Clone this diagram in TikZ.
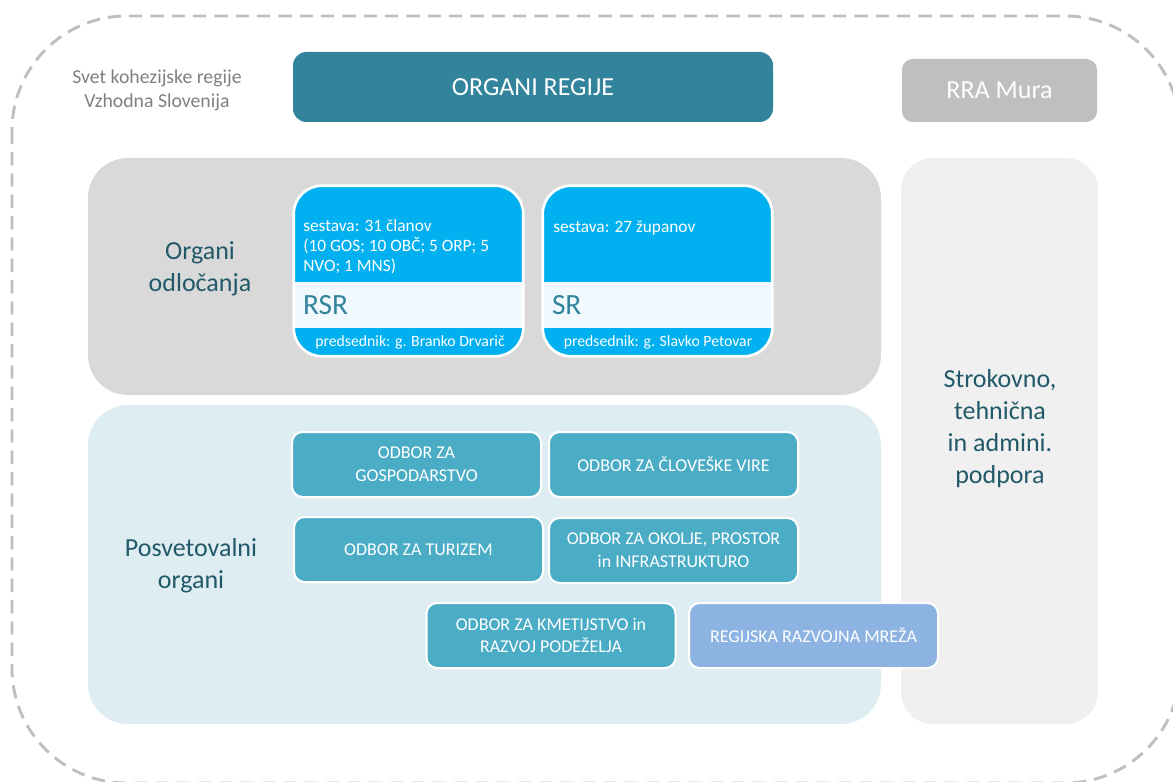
\documentclass[tikz,border=0pt]{standalone}
\usepackage{fontspec}
\setmainfont{Carlito}

\definecolor{headteal}{HTML}{31849B}
\definecolor{darkteal}{HTML}{215968}
\definecolor{rragray}{HTML}{BFBFBF}
\definecolor{decgray}{HTML}{D9D9D9}
\definecolor{advblue}{HTML}{DEEDF2}
\definecolor{supgray}{HTML}{F0F0F0}
\definecolor{cardblue}{HTML}{00B0F0}
\definecolor{cardlight}{HTML}{F0FAFE}
\definecolor{odborteal}{HTML}{4BACC6}
\definecolor{mrezablue}{HTML}{8DB3E2}
\definecolor{framegray}{HTML}{BFBFBF}
\definecolor{svetgray}{HTML}{7F7F7F}

% 1 px of the layout = 0.75pt
\newcommand{\pxl}[1]{#1*0.75pt}
\newcommand{\sz}[2]{\fontsize{#1}{#2}\selectfont}

\begin{document}
\begin{tikzpicture}[x=0.75pt, y=-0.75pt]

\tikzset{
  outerframe/.style={draw=framegray, line width=2.2pt, dash pattern=on 10pt off 6pt, rounded corners=86pt},
  region/.style={inner sep=0pt, rounded corners=30pt},
  head/.style={inner sep=0pt, rounded corners=10pt, text=white, font=\sz{19.5}{23}},
  svet/.style={text=svetgray, align=center, font=\sz{14.8}{18}},
  grouptext/.style={text=darkteal, align=center, font=\sz{19.5}{24}},
  card/.style={fill=cardblue, inner sep=0pt, rounded corners=21pt, minimum width=\pxl{229}, minimum height=\pxl{170}},
  band/.style={fill=cardlight, text=headteal, font=\sz{22}{26}, inner xsep=\pxl{9}, inner ysep=0pt,
    text width=\pxl{211}, minimum height=\pxl{46}, align=left},
  cardedge/.style={draw=white, line width=2pt, rounded corners=21pt},
  cardtext/.style={anchor=north west, inner sep=0pt, text=white, align=left, font=\sz{13}{15}},
  predtext/.style={text=white, inner sep=0pt, font=\sz{11.8}{14}},
  odbor/.style={draw=white, line width=1.5pt, rounded corners=8pt, fill=odborteal, text=white, align=center,
    inner sep=0pt, minimum width=\pxl{249}, minimum height=\pxl{65}, font=\sz{13.5}{17}}
}

\useasboundingbox (0,0) rectangle (1173,781);

% --- Okvir sveta regije ---
\draw[outerframe] (12,16) rectangle (1180,783);

% --- Glava ---
\node[svet] (svet) at (157,90) {Svet kohezijske regije\\Vzhodna Slovenija};
\node[head, fill=headteal, minimum width=\pxl{480}, minimum height=\pxl{70}] (organi) at (533,87) {ORGANI REGIJE};
\node[head, fill=rragray, rounded corners=8pt, minimum width=\pxl{195}, minimum height=\pxl{63}] (rra) at (999.5,90.5) {RRA Mura};

% --- Podlage ---
\node[region, fill=decgray, minimum width=\pxl{793}, minimum height=\pxl{237}] (odl) at (484.5,276.5) {};
\node[region, fill=advblue, minimum width=\pxl{793}, minimum height=\pxl{319}] (posv) at (484.5,564.5) {};
\node[region, fill=supgray, rounded corners=24pt, minimum width=\pxl{197}, minimum height=\pxl{566}] (podp) at (999.5,441) {};

\node[grouptext] (odltext) at (200,269) {Organi\\odločanja};
\node[grouptext] (posvtext) at (191,566) {Posvetovalni\\organi};
\node[grouptext] (podptext) at (1000,429) {Strokovno,\\tehnična\\in admini.\\podpora};

% --- Organi odločanja ---
% RSR
\node[card] (rsr) at (408.5,271) {};
\node[band] (rsrband) at (408.5,305) {RSR};
\draw[cardedge] (rsr.north west) rectangle (rsr.south east);
\node[cardtext] (rsrsestava) at (303,219) {sestava: 31 članov\\(10 GOS; 10 OBČ; 5 ORP; 5\\NVO; 1 MNS)};
\node[predtext] (rsrpred) at (410,342) {predsednik: g. Branko Drvarič};

% SR
\node[card] (sr) at (657.5,271) {};
\node[band] (srband) at (657.5,305) {SR};
\draw[cardedge] (sr.north west) rectangle (sr.south east);
\node[cardtext] (srsestava) at (553,221) {sestava: 27 županov};
\node[predtext] (srpred) at (658,342) {predsednik: g. Slavko Petovar};

% --- Posvetovalni organi (odbori) ---
\node[odbor] (gosp) at (416.5,464.5) {ODBOR ZA\\GOSPODARSTVO};
\node[odbor] (clov) at (673.5,464.5) {ODBOR ZA ČLOVEŠKE VIRE};
\node[odbor] (tur)  at (418.5,549.5) {ODBOR ZA TURIZEM};
\node[odbor] (okol) at (673.5,550.5) {ODBOR ZA OKOLJE, PROSTOR\\in INFRASTRUKTURO};
\node[odbor] (kmet) at (551,635.5) {ODBOR ZA KMETIJSTVO in\\RAZVOJ PODEŽELJA};
\node[odbor, fill=mrezablue] (mreza) at (813.5,635.5) {REGIJSKA RAZVOJNA MREŽA};

\end{tikzpicture}
\end{document}
